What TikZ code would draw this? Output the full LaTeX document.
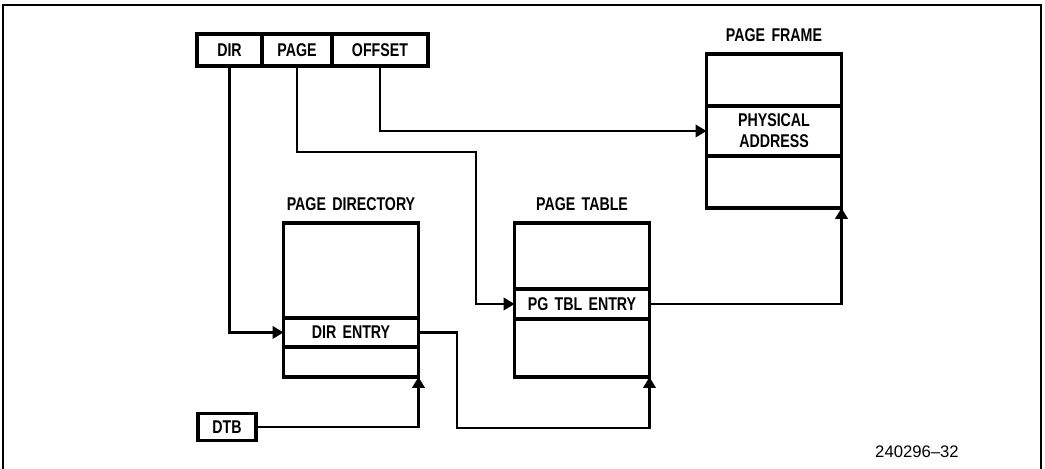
\documentclass[tikz,border=0pt]{standalone}
\usepackage{fontspec}
\setmainfont{Liberation Sans}
\newfontfamily\lblfont{Liberation Sans}[FakeStretch=0.77,WordSpace=1.6]
\usepackage{tikz}
\usetikzlibrary{arrows.meta,positioning}

\begin{document}
\begin{tikzpicture}[
  x=0.02cm,y=-0.02cm,
  font=\lblfont\bfseries\fontsize{10.5}{12}\selectfont,
  box/.style={rectangle,draw,line width=2pt,outer sep=0pt,inner sep=0pt,align=center},
  fld/.style={box,minimum height=0.64cm},
  tbl/.style={box,minimum width=2.7cm},
  ttl/.style={inner sep=0pt,above=2.3mm},
  ar/.style={-{Triangle[length=2.2mm,width=2.5mm]},line width=1.4pt}
]
\useasboundingbox (0,0) rectangle (1045,469);
\draw[line width=1.3pt] (3,469) -- (3,5) -- (1041,5) -- (1041,469);

% linear address
\node[fld,minimum width=1.3cm,anchor=west] (dir) at (197,50) {DIR};
\node[fld,minimum width=1.4cm,right=0pt of dir] (page) {PAGE};
\node[fld,minimum width=1.92cm,right=0pt of page] (offset) {OFFSET};

% page directory
\node[tbl,minimum height=1.9cm,anchor=north] (pdtop) at (351,223) {};
\node[tbl,minimum height=0.58cm,below=0pt of pdtop] (direntry) {DIR ENTRY};
\node[tbl,minimum height=0.6cm,below=0pt of direntry] (pdbot) {};
\node[ttl] at (pdtop.north) {PAGE DIRECTORY};

% page table
\node[tbl,minimum height=1.32cm,anchor=north] (pttop) at (582,223) {};
\node[tbl,minimum height=0.6cm,below=0pt of pttop] (pte) {PG TBL ENTRY};
\node[tbl,minimum height=1.16cm,below=0pt of pte] (ptbot) {};
\node[ttl] at (pttop.north) {PAGE TABLE};

% page frame
\node[tbl,minimum height=1.04cm,anchor=north] (pftop) at (774,54) {};
\node[tbl,minimum height=1.0cm,below=0pt of pftop] (physaddr) {PHYSICAL\\ADDRESS};
\node[tbl,minimum height=1.04cm,below=0pt of physaddr] (pfbot) {};
\node[ttl] at (pftop.north) {PAGE FRAME};

\node[box,minimum width=1.16cm,minimum height=0.54cm] (dtb) at (227,427) {DTB};

\coordinate (pagebend) at (476,152);
\coordinate (dirbend) at (457,428);

\draw[ar] (dir.south) |- (direntry.west);
\draw[ar] (page.south) |- (pagebend) |- (pte.west);
\draw[ar] (offset.south) |- (physaddr.west);
\draw[ar] (dtb.east) -| (pdbot.south east);
\draw[ar] (direntry.east) -| (dirbend) -| (ptbot.south east);
\draw[ar] (pte.east) -| (pfbot.south east);

\node[font=\mdseries\fontsize{9.5}{11}\selectfont] (figno) at (917,452) {240296--32};
\end{tikzpicture}
\end{document}
